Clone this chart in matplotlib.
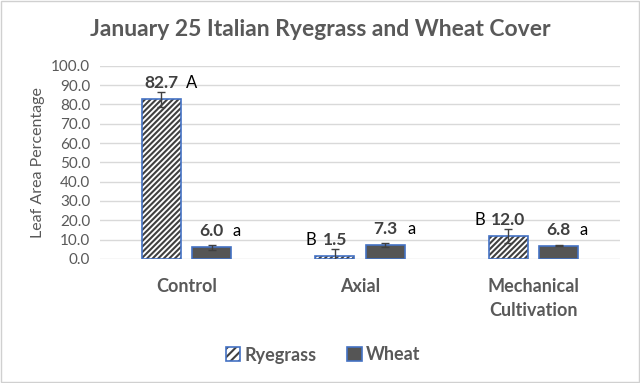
import matplotlib
matplotlib.use("Agg")
import matplotlib.pyplot as plt
from matplotlib.patches import Rectangle, Patch
from matplotlib.legend_handler import HandlerBase
import numpy as np

plt.rcParams['font.family'] = ['Lato', 'DejaVu Sans']
plt.rcParams['hatch.linewidth'] = 1.5

categories = ["Control", "Axial", "Mechanical\nCultivation"]
ryegrass = [82.7, 1.5, 12.0]
wheat = [6.0, 7.3, 6.8]
ryegrass_err = [3.8, 3.7, 3.5]
wheat_err = [1.2, 1.0, 0.3]
ryegrass_letters = ["A", "B", "B"]
wheat_letters = ["a", "a", "a"]
yticks = [0, 10, 20, 30, 40, 50, 60, 70, 80, 90, 100]

TXT = '#595959'
EDGE = '#4472C4'
HATCH = '#404040'
WHEAT = '#555555'

fig = plt.figure(figsize=(6.4, 3.83), dpi=100)
ax = fig.add_axes([0.156, 0.324, 0.813, 0.504])

x = np.arange(len(categories))
w = 0.225
off = 0.145
# ryegrass: hatch in dark gray, outline in blue
ax.bar(x - off, ryegrass, w, facecolor='white', edgecolor=HATCH, hatch='//////',
       linewidth=0, zorder=3)
ax.bar(x - off, ryegrass, w, facecolor='none', edgecolor=EDGE,
       linewidth=1.2, zorder=3.5)
ax.bar(x + off, wheat, w, facecolor=WHEAT, edgecolor=EDGE,
       linewidth=1.2, zorder=3)
ax.errorbar(x - off, ryegrass, yerr=ryegrass_err, fmt='none', ecolor='#404040',
            elinewidth=1, capsize=3, zorder=4)
ax.errorbar(x + off, wheat, yerr=wheat_err, fmt='none', ecolor='#404040',
            elinewidth=1, capsize=3, zorder=4)

ax.set_xlim(-0.5, 2.5)
ax.set_ylim(0, 100)
ax.set_yticks(yticks)
ax.set_yticklabels([f"{v:.1f}" for v in yticks], color=TXT, fontsize=11)
ax.set_xticks(x)
ax.set_xticklabels(categories, color=TXT, fontsize=13, fontweight='bold',
                   linespacing=1.45)
ax.tick_params(axis='y', length=0, pad=7)
ax.tick_params(axis='x', length=0, pad=14)
ax.yaxis.grid(True, color='#D9D9D9', linewidth=1, zorder=0)
for s in ax.spines.values():
    s.set_visible(False)
ax.set_ylabel("Leaf Area Percentage", color=TXT, fontsize=11.5, labelpad=4)

PT = 0.72  # points per pixel at 100 dpi
rye_letter_dx = [30, -24, -28]
wheat_letter_dx = [25, 26, 25]
for i in range(3):
    for xc, val, let, dx in ((x[i] - off, ryegrass[i], ryegrass_letters[i], rye_letter_dx[i]),
                             (x[i] + off, wheat[i], wheat_letters[i], wheat_letter_dx[i])):
        ax.annotate(f"{val:.1f}", (xc, val), xytext=(0, 16 * PT),
                    textcoords='offset points', ha='center', va='center',
                    fontsize=12.5, fontweight='bold', color='#404040')
        ax.annotate(let, (xc, val), xytext=(dx * PT, 16 * PT),
                    textcoords='offset points', ha='center', va='center',
                    fontsize=12, color='black')

fig.text(0.5, 1 - 30 / 383, "January 25 Italian Ryegrass and Wheat Cover",
         ha='center', va='center', fontsize=16.5, fontweight='bold', color=TXT)


class HatchHandler(HandlerBase):
    def create_artists(self, legend, orig_handle, xdescent, ydescent, width, height,
                       fontsize, trans):
        s = min(width, height)
        x0 = xdescent + (width - s) / 2
        y0 = -ydescent + (height - s) / 2
        r1 = Rectangle((x0, y0), s, s, facecolor='white', edgecolor=HATCH,
                       hatch='////', linewidth=0, transform=trans)
        r2 = Rectangle((x0, y0), s, s, facecolor='none', edgecolor=EDGE,
                       linewidth=1.2, transform=trans)
        return [r1, r2]


h_rye = Patch(label='Ryegrass')
h_wheat = Patch(facecolor=WHEAT, edgecolor=EDGE, linewidth=1.2, label='Wheat')
leg = fig.legend([h_rye, h_wheat], ['Ryegrass', 'Wheat'], loc='center',
                 bbox_to_anchor=(0.505, 1 - 355 / 383), ncol=2, frameon=False,
                 prop={'size': 13, 'weight': 'bold'}, handlelength=0.8,
                 handleheight=0.8, handletextpad=0.25, columnspacing=1.7,
                 handler_map={h_rye: HatchHandler()})
for t in leg.get_texts():
    t.set_color(TXT)

fig.patches.append(Rectangle((0.002, 0.003), 0.996, 0.994, transform=fig.transFigure,
                             fill=False, edgecolor='#D0D0D0', linewidth=1))

fig.savefig("out.png", dpi=100)
